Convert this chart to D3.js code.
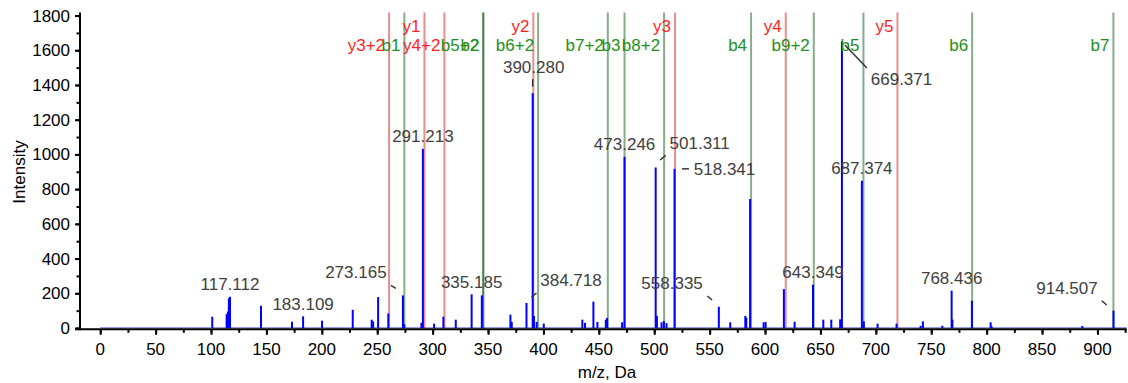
<!DOCTYPE html>
<html><head><meta charset="utf-8">
<script src="https://cdn.jsdelivr.net/npm/d3@7"></script>
<style>
body{margin:0;background:#fff}
svg{display:block}
text{font-family:"Liberation Sans",Arial,Helvetica,sans-serif}
</style>
</head><body>
<svg id="chart" width="1128" height="383"></svg>
<script>
// ---------------- data ----------------
const peakMz = [101.1,114.1,115.2,116.1,117.1,145.1,173.1,183.1,200.2,227.9,
  245.0,246.3,250.8,260.0,273.2,274.4,289.9,291.2,301.3,309.7,
  320.9,335.2,344.4,370.2,371.4,384.7,390.3,391.5,393.9,400.3,
  435.1,437.5,445.1,448.7,456.3,457.5,471.0,473.2,501.3,502.4,
  506.6,508.7,511.1,518.3,558.3,568.6,582.2,583.1,586.5,598.7,
  600.5,617.0,626.7,643.3,652.6,659.8,667.8,669.4,687.4,689.2,
  701.6,718.7,740.4,742.5,760.0,768.4,769.1,786.7,803.6,804.5,
  886.3,914.5];
const peakIntensity = [65,80,95,172,180,128,36,67,42,105,
  48,38,178,84,188,22,30,1032,25,65,
  48,194,188,77,35,144,1353,70,35,25,
  48,30,152,35,48,58,33,986,925,70,
  33,40,28,917,122,33,69,60,743,33,
  35,224,36,250,48,48,50,1650,848,38,
  25,25,13,38,13,215,48,157,33,10,
  12,100];

const ionNames = ["y3+2","b1","y1","y4+2","b5+2","b2","y2","b6+2","b7+2","b3",
  "b8+2","y3","b4","y4","b9+2","b5","y5","b6","b7"];
const ionMz = [260.7,274.5,292.6,310.6,345.6,345.8,390.9,395.2,458.1,473.2,
  508.9,518.8,587.4,618.7,644.0,688.8,719.5,786.9,914.4];
const ionSeries = ["y","b","y","y","b","b","y","b","b","b",
  "b","y","b","y","b","b","y","b","b"];
const ionRow = [2,2,1,2,2,2,1,2,2,2,2,1,2,1,2,2,1,2,2];

const labelMz = [117.112,183.109,273.165,291.213,335.185,384.718,390.280,473.246,
  501.311,518.341,558.335,643.349,669.371,687.374,768.436,914.507];
const labelText = labelMz.map(d => d.toFixed(3));

const xTickValues = d3.range(0, 901, 50);
const xMinorValues = d3.range(0, 926, 25);
const yTickValues = d3.range(0, 1801, 200);
const yMinorValues = d3.range(0, 1801, 100);

// layout of the peak labels relative to the peak top: [dx, dy(baseline), leader x1,y1,x2,y2, anchor]
const labelLayout = {
  "273.165": [-47, -17.5, -12, -10, -7, -7],
  "384.718": [44.5, -17, 5, -6, 10, -10],
  "390.280": [1, -20.5, 0, -14, 0, -6.5],
  "501.311": [44, -18, 4.5, -7.4, 10, -12],
  "518.341": [50, 6, 7.5, 0, 14.5, 0],
  "558.335": [-46.8, -18, -11.5, -10.8, -6.8, -6.8],
  "669.371": [59.6, 43.5, 3, 3.4, 25, 26.4],
  "914.507": [-46.5, -17, -11.8, -9.9, -6.8, -5.6]
};

// ---------------- chart ----------------
const svg = d3.select("#chart");
const x = d3.scaleLinear().domain([-17.8, 926.4]).range([80.5, 1126.7]);
const y = d3.scaleLinear().domain([0, 1817]).range([328, 12.6]);
const FS = 17;

// baseline trace
svg.append("line")
  .attr("x1", x(0)).attr("x2", x(926.4))
  .attr("y1", y(0) - 0.3).attr("y2", y(0) - 0.3)
  .attr("stroke", "#9a9af0").attr("stroke-width", 1.5);

// ion annotation lines
const ions = ionNames.map((n, i) => ({name: n, mz: ionMz[i], s: ionSeries[i], row: ionRow[i]}));
svg.append("g").selectAll("line").data(ions).join("line")
  .attr("x1", d => x(d.mz)).attr("x2", d => x(d.mz))
  .attr("y1", y(1817)).attr("y2", y(0))
  .attr("stroke", d => d.s === "y" ? "rgb(210,0,0)" : "rgb(0,80,0)")
  .attr("stroke-opacity", d => d.s === "y" ? 0.45 : 0.47)
  .attr("stroke-width", 2);

// peaks
const peaks = peakMz.map((m, i) => ({mz: m, v: peakIntensity[i]}));
svg.append("g").selectAll("line").data(peaks).join("line")
  .attr("x1", d => x(d.mz)).attr("x2", d => x(d.mz))
  .attr("y1", y(0)).attr("y2", d => y(d.v))
  .attr("stroke", "#0000ff").attr("stroke-width", 2);

// ion labels
svg.append("g").selectAll("text").data(ions).join("text")
  .attr("x", d => x(d.mz) - 4)
  .attr("y", d => d.row === 1 ? 31.5 : 50.5)
  .attr("text-anchor", "end")
  .attr("font-size", FS)
  .attr("fill", d => d.s === "y" ? "#ff1f1f" : "#229020")
  .text(d => d.name);

// peak labels
const labels = labelMz.map((m, i) => {
  let best = peaks[0];
  peaks.forEach(p => { if (Math.abs(p.mz - m) < Math.abs(best.mz - m)) best = p; });
  return {mz: m, text: labelText[i], v: best.v};
});
const lg = svg.append("g");
labels.forEach(d => {
  const px = x(d.mz), py = y(d.v);
  const L = labelLayout[d.text];
  const dx = L ? L[0] : 0, dy = L ? L[1] : -6.8;
  lg.append("text")
    .attr("x", px + dx).attr("y", py + dy)
    .attr("text-anchor", "middle")
    .attr("font-size", FS)
    .attr("fill", "#404040")
    .text(d.text);
  if (L) {
    lg.append("line")
      .attr("x1", px + L[2]).attr("y1", py + L[3])
      .attr("x2", px + L[4]).attr("y2", py + L[5])
      .attr("stroke", "#333").attr("stroke-width", 1.5);
  }
});

// axes
const axY0 = 329.3, axX0 = 80;
const gx = svg.append("g").attr("transform", `translate(0,${axY0})`);
gx.call(d3.axisBottom(x).tickValues(xMinorValues).tickSize(3.5).tickFormat(""))
  .call(g => g.select(".domain").remove());
gx.append("g").call(d3.axisBottom(x).tickValues(xTickValues).tickSize(5.5).tickFormat(""))
  .call(g => g.select(".domain").remove());
gx.selectAll(".tick line").attr("stroke", "#000").attr("stroke-width", 2);
gx.selectAll("path.domain").remove();

svg.append("g").selectAll("text").data(xTickValues).join("text")
  .attr("x", d => x(d)).attr("y", 354.5)
  .attr("text-anchor", "middle").attr("font-size", FS).attr("fill", "#000")
  .text(d => d);

const gy = svg.append("g").attr("transform", `translate(${axX0},0)`);
gy.call(d3.axisLeft(y).tickValues(yMinorValues).tickSize(3.5).tickFormat(""))
  .call(g => g.select(".domain").remove());
gy.append("g").call(d3.axisLeft(y).tickValues(yTickValues).tickSize(5).tickFormat(""))
  .call(g => g.select(".domain").remove());
gy.selectAll(".tick line").attr("stroke", "#000").attr("stroke-width", 2);

svg.append("g").selectAll("text").data(yTickValues).join("text")
  .attr("x", 70).attr("y", d => y(d) + 6)
  .attr("text-anchor", "end").attr("font-size", FS).attr("fill", "#000")
  .text(d => d);

// axis lines
svg.append("line").attr("x1", 75).attr("x2", 1126.7).attr("y1", axY0).attr("y2", axY0)
  .attr("stroke", "#000").attr("stroke-width", 2);
svg.append("line").attr("x1", axX0).attr("x2", axX0).attr("y1", 12.6).attr("y2", axY0 + 1)
  .attr("stroke", "#000").attr("stroke-width", 2);

// axis titles
svg.append("text").attr("x", 607).attr("y", 377.5)
  .attr("text-anchor", "middle").attr("font-size", FS).attr("fill", "#000")
  .text("m/z, Da");
svg.append("text")
  .attr("transform", "translate(24.5,172) rotate(-90)")
  .attr("text-anchor", "middle").attr("font-size", FS).attr("fill", "#000")
  .text("Intensity");
</script>
</body></html>
